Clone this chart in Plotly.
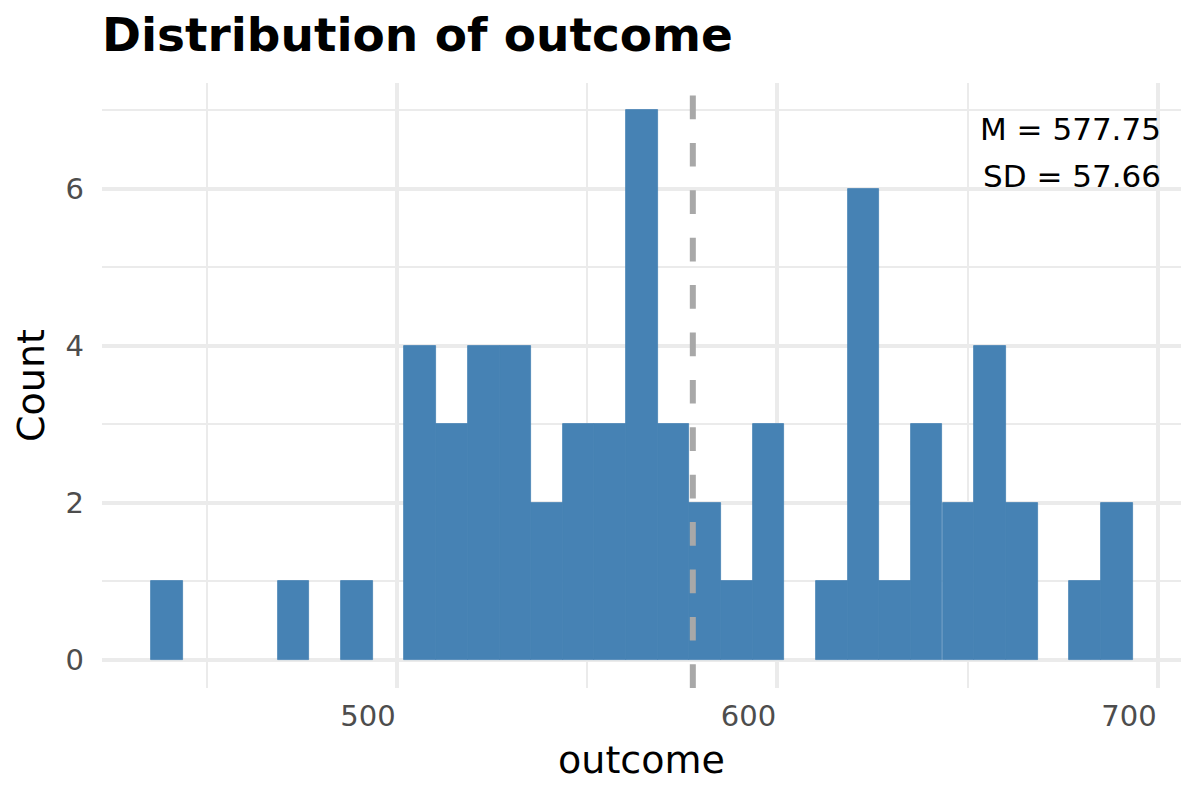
import plotly.graph_objects as go

# histogram bins (centres) and counts
bin_centers = [439.5, 447.9, 456.2, 464.5, 472.8, 481.2, 489.5, 497.8, 506.1, 514.4,
               522.8, 531.1, 539.4, 547.7, 556.0, 564.4, 572.7, 581.0, 589.3, 597.6,
               606.0, 614.3, 622.6, 630.9, 639.2, 647.6, 655.9, 664.2, 672.5, 680.8,
               689.2]
counts = [1, 0, 0, 0, 1, 0, 1, 0, 4, 3,
          4, 4, 2, 3, 3, 7, 3, 2, 1, 3,
          0, 1, 6, 1, 3, 2, 4, 2, 0, 1,
          2]
bin_width = 8.32

mean_value = 577.75
sd_value = 57.66

x_ticks = [500, 600, 700]
y_ticks = [0, 2, 4, 6]

FONT = "DejaVu Sans"
GRID = "#EBEBEB"
BAR = "#4682B4"

fig = go.Figure()

# thin outline in the fill colour hides the seams between bars (not on empty bins)
fig.add_trace(
    go.Bar(
        x=bin_centers,
        y=counts,
        width=bin_width,
        marker=dict(
            color=BAR,
            line=dict(width=[0.8 if c > 0 else 0 for c in counts], color=BAR),
        ),
        showlegend=False,
        hoverinfo="x+y",
    )
)

# dashed line at the mean
fig.add_shape(
    type="line",
    xref="x",
    yref="paper",
    x0=mean_value,
    x1=mean_value,
    y0=0,
    y1=1,
    line=dict(color="#A8A8A8", width=6, dash="23.7px,23.7px"),
    layer="above",
)

fig.add_annotation(
    x=701.3, y=6.76, xref="x", yref="y",
    text=f"M = {mean_value:.2f}",
    showarrow=False, xanchor="right", yanchor="middle",
    font=dict(family=FONT, size=31, color="black"),
)
fig.add_annotation(
    x=701.3, y=6.17, xref="x", yref="y",
    text=f"SD = {sd_value:.2f}",
    showarrow=False, xanchor="right", yanchor="middle",
    font=dict(family=FONT, size=31, color="black"),
)

# page body has an 8px margin, so the figure is a bit smaller than the window
fig.update_layout(
    width=1192,
    height=792,
    margin=dict(l=94, r=19, t=75, b=112),
    plot_bgcolor="white",
    paper_bgcolor="white",
    font=dict(family=FONT),
    bargap=0,
    title=dict(
        text="<b>Distribution of outcome</b>",
        font=dict(family=FONT, size=47, color="black"),
        x=0,
        xref="paper",
        xanchor="left",
        y=0.966,
        yref="container",
        yanchor="middle",
    ),
)

fig.update_xaxes(
    range=[422.46, 706.06],
    tickvals=x_ticks,
    ticktext=[str(v) for v in x_ticks],
    ticklabelshift=-29,
    ticklabelstandoff=8,
    tickfont=dict(family=FONT, size=29, color="#4D4D4D"),
    showgrid=True,
    gridcolor=GRID,
    gridwidth=3.8,
    minor=dict(dtick=50, tick0=0, showgrid=True, gridcolor=GRID, gridwidth=1.9),
    zeroline=False,
    showline=False,
    ticks="",
    automargin=False,
    title=dict(text="outcome", font=dict(family=FONT, size=38, color="black"), standoff=14),
)

fig.update_yaxes(
    range=[-0.357, 7.35],
    tickvals=y_ticks,
    ticktext=[str(v) for v in y_ticks],
    tickfont=dict(family=FONT, size=29, color="#4D4D4D"),
    ticklabelstandoff=17,
    showgrid=True,
    gridcolor=GRID,
    gridwidth=3.8,
    minor=dict(dtick=1, tick0=0, showgrid=True, gridcolor=GRID, gridwidth=1.9),
    zeroline=False,
    showline=False,
    ticks="",
    automargin=False,
    title=dict(text="Count", font=dict(family=FONT, size=38, color="black"), standoff=9),
)

fig.write_html("out.html")
